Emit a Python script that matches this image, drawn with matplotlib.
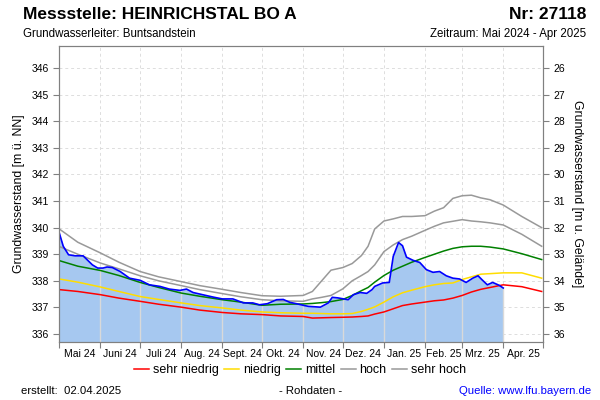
import numpy as np
import matplotlib
matplotlib.use("Agg")
import matplotlib.pyplot as plt
import matplotlib.dates as mdates

plt.rcParams["font.family"] = ["Liberation Sans", "DejaVu Sans"]

# measured level (Rohdaten), m above sea level
mess_dates = [
    "2024-05-01", "2024-05-04", "2024-05-08", "2024-05-13", "2024-05-19", "2024-05-26",
    "2024-05-30", "2024-06-03", "2024-06-06", "2024-06-10", "2024-06-16", "2024-06-23",
    "2024-07-01", "2024-07-08", "2024-07-16", "2024-07-23", "2024-07-31", "2024-08-05",
    "2024-08-10", "2024-08-17", "2024-08-25", "2024-09-01", "2024-09-09", "2024-09-17",
    "2024-09-24", "2024-09-29", "2024-10-05", "2024-10-12", "2024-10-17", "2024-10-22",
    "2024-10-27", "2024-11-02", "2024-11-05", "2024-11-14", "2024-11-20", "2024-11-23",
    "2024-11-27", "2024-12-05", "2024-12-09", "2024-12-14", "2024-12-19", "2024-12-23",
    "2024-12-25", "2024-12-31", "2025-01-05", "2025-01-08", "2025-01-12", "2025-01-15",
    "2025-01-18", "2025-01-23", "2025-01-28", "2025-02-02", "2025-02-07", "2025-02-12",
    "2025-02-17", "2025-02-22", "2025-02-27", "2025-03-04", "2025-03-09", "2025-03-13",
    "2025-03-16", "2025-03-20", "2025-03-24", "2025-03-29", "2025-04-01",
]
mess_values = [
    339.80, 339.30, 338.98, 338.94, 338.94, 338.60,
    338.48, 338.48, 338.52, 338.50, 338.35, 338.10,
    338.02, 337.85, 337.79, 337.69, 337.64, 337.69,
    337.56, 337.48, 337.39, 337.32, 337.32, 337.17,
    337.17, 337.10, 337.14, 337.29, 337.30, 337.19,
    337.14, 337.07, 337.04, 337.01, 337.17, 337.38,
    337.36, 337.29, 337.48, 337.56, 337.53, 337.67,
    337.79, 337.92, 337.94, 338.92, 339.44, 339.32,
    338.89, 338.77, 338.69, 338.42, 338.32, 338.35,
    338.19, 338.10, 338.07, 337.94, 338.10, 338.19,
    338.04, 337.85, 337.94, 337.83, 337.73,
]

# reference curves
ref_dates = [
    "2024-05-01", "2024-05-15", "2024-06-01", "2024-06-15", "2024-07-01", "2024-07-15",
    "2024-08-01", "2024-08-15", "2024-09-01", "2024-09-15", "2024-10-01", "2024-10-15",
    "2024-11-01", "2024-11-08", "2024-11-15", "2024-11-22", "2024-12-01", "2024-12-08",
    "2024-12-15", "2024-12-20", "2024-12-25", "2025-01-01", "2025-01-08", "2025-01-15",
    "2025-01-22", "2025-02-01", "2025-02-08", "2025-02-15", "2025-02-22", "2025-03-01",
    "2025-03-08", "2025-03-15", "2025-03-22", "2025-04-01", "2025-04-15", "2025-04-30",
]
sehr_niedrig = [
    337.67, 337.60, 337.48, 337.35, 337.23, 337.12, 337.01, 336.90, 336.81, 336.76,
    336.73, 336.68, 336.66, 336.60, 336.61, 336.62, 336.63, 336.64, 336.66, 336.68,
    336.75, 336.83, 336.95, 337.07, 337.13, 337.20, 337.25, 337.28, 337.35, 337.45,
    337.58, 337.68, 337.75, 337.85, 337.78, 337.60,
]
niedrig = [
    338.07, 337.95, 337.77, 337.60, 337.41, 337.30, 337.17, 337.07, 336.98, 336.90,
    336.83, 336.80, 336.78, 336.78, 336.77, 336.76, 336.76, 336.77, 336.85, 336.93,
    337.02, 337.20, 337.40, 337.55, 337.65, 337.78, 337.85, 337.90, 337.92, 338.05,
    338.15, 338.25, 338.27, 338.30, 338.30, 338.10,
]
mittel = [
    338.76, 338.55, 338.39, 338.20, 337.94, 337.75, 337.54, 337.42, 337.29, 337.20,
    337.08, 337.12, 337.13, 337.15, 337.18, 337.22, 337.30, 337.45, 337.63, 337.75,
    337.95, 338.20, 338.40, 338.55, 338.70, 338.88, 339.00, 339.12, 339.22, 339.28,
    339.30, 339.30, 339.27, 339.20, 339.02, 338.80,
]
hoch = [
    339.29, 339.00, 338.67, 338.45, 338.19, 338.00, 337.82, 337.67, 337.52, 337.40,
    337.29, 337.25, 337.23, 337.32, 337.38, 337.45, 337.70, 338.00, 338.20, 338.35,
    338.60, 339.10, 339.35, 339.55, 339.68, 339.90, 340.05, 340.18, 340.24, 340.30,
    340.25, 340.22, 340.18, 340.10, 339.75, 339.30,
]
sehr_hoch = [
    339.95, 339.45, 339.05, 338.70, 338.35, 338.15, 337.97, 337.82, 337.68, 337.56,
    337.44, 337.42, 337.45, 337.60, 338.00, 338.40, 338.50, 338.65, 338.95, 339.30,
    339.95, 340.25, 340.33, 340.42, 340.42, 340.45, 340.62, 340.75, 341.10, 341.20,
    341.22, 341.12, 341.05, 340.85, 340.42, 340.00,
]

month_labels = ["Mai 24", "Juni 24", "Juli 24", "Aug. 24", "Sept. 24", "Okt. 24",
                "Nov. 24", "Dez. 24", "Jan. 25", "Feb. 25", "Mrz. 25", "Apr. 25"]
gelaende = 372.0  # ground level for right axis

mx = mdates.datestr2num(mess_dates)
rx = mdates.datestr2num(ref_dates)
month_starts = mdates.datestr2num(
    ["2024-%02d-01" % m for m in range(5, 13)] + ["2025-%02d-01" % m for m in range(1, 6)])
month_mids = (month_starts[:-1] + month_starts[1:]) / 2

fig = plt.figure(figsize=(6, 4), dpi=100)
ax = fig.add_axes([0.0988, 0.145, 0.8062, 0.74])

ylo, yhi = 335.7, 346.83
ax.set_xlim(month_starts[0], month_starts[-1])
ax.set_ylim(ylo, yhi)

ax.fill_between(mx, ylo, mess_values, color="#a6c8f0", lw=0, zorder=1)
inside = month_starts[(month_starts > mx[0]) & (month_starts <= mx[-1])]
ax.vlines(inside, ylo, np.interp(inside, mx, mess_values), color="#d9d9d9", lw=1, zorder=2)

ax.plot(rx, sehr_niedrig, color="#ff0000", lw=1.1, zorder=3, label="sehr niedrig")
ax.plot(rx, niedrig, color="#ffdd00", lw=1.1, zorder=3, label="niedrig")
ax.plot(rx, mittel, color="#008000", lw=1.1, zorder=3, label="mittel")
ax.plot(rx, hoch, color="#999999", lw=1.1, zorder=3, label="hoch")
ax.plot(rx, sehr_hoch, color="#999999", lw=1.1, zorder=3, label="sehr hoch")
ax.plot(mx, mess_values, color="#0000ff", lw=1.2, zorder=4)

ax.set_yticks(np.arange(336, 347))
ax.set_xticks(month_starts)
ax.set_xticklabels([])
ax.set_xticks(month_mids, minor=True)
ax.set_xticklabels(month_labels, minor=True, fontsize=7.5)
ax.tick_params(axis="x", which="minor", length=0, pad=5)
ax.tick_params(axis="x", which="major", length=4, color="#808080")
ax.tick_params(axis="y", length=4, color="#808080", labelsize=7.5)
ax.grid(True, color="#dddddd", ls=(0, (3, 3)), lw=0.7)
ax.set_axisbelow(True)
for s in ax.spines.values():
    s.set_color("#808080")
ax.set_ylabel("Grundwasserstand [m ü. NN]", fontsize=8.8, labelpad=5)

ax2 = ax.twinx()
ax2.set_ylim(gelaende - ylo, gelaende - yhi)
ax2.set_yticks(np.arange(26, 37))
ax2.tick_params(axis="y", length=4, color="#808080", labelsize=7.5)
for s in ax2.spines.values():
    s.set_color("#808080")
ax2.set_ylabel("Grundwasserstand [m u. Gelände]", fontsize=8.8, rotation=270, labelpad=13)

fig.text(0.038, 0.963, "Messstelle: HEINRICHSTAL BO A", fontsize=12.5, fontweight="bold", va="center")
fig.text(0.977, 0.963, "Nr: 27118", fontsize=12.5, fontweight="bold", va="center", ha="right")
fig.text(0.038, 0.915, "Grundwasserleiter: Buntsandstein", fontsize=8.3, va="center")
fig.text(0.977, 0.915, "Zeitraum: Mai 2024 - Apr 2025", fontsize=8.3, va="center", ha="right")

fig.legend(loc="center", bbox_to_anchor=(0.5, 0.075), ncol=5, frameon=False, fontsize=9,
           handlelength=1.2, handletextpad=0.3, columnspacing=0.45)

fig.text(0.035, 0.022, "erstellt:  02.04.2025", fontsize=8.2, va="center")
fig.text(0.517, 0.022, "- Rohdaten -", fontsize=8.2, va="center", ha="center")
fig.text(0.985, 0.022, "Quelle: www.lfu.bayern.de", fontsize=8.2, va="center", ha="right", color="#0000ff")

fig.savefig("out.png", dpi=100)
